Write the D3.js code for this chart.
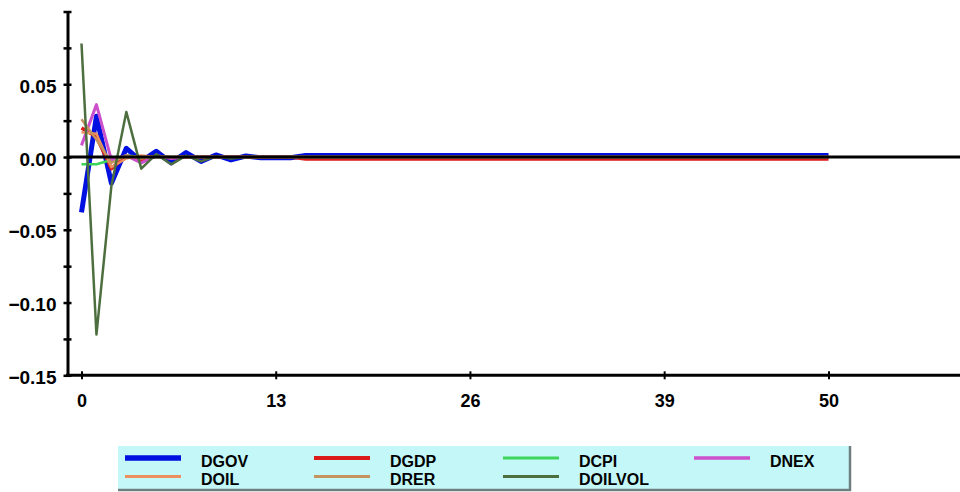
<!DOCTYPE html>
<html>
<head>
<meta charset="utf-8">
<script src="https://cdn.jsdelivr.net/npm/d3@7"></script>
<style>
  html, body { margin: 0; padding: 0; background: #ffffff; }
  svg { display: block; }
  text { font-family: "Liberation Sans", Arial, sans-serif; font-weight: bold; fill: #000; }
</style>
</head>
<body>
<svg id="chart" width="960" height="492"></svg>
<script>
// Impulse-response horizon (periods after the shock)
const periods = d3.range(0, 51);

// Axis ticks
const xTickValues = [0, 13, 26, 39, 50];
const yTickValues = [0.1, 0.075, 0.05, 0.025, 0, -0.025, -0.05, -0.075, -0.1, -0.125, -0.15];
const yLabelValues = [0.05, 0, -0.05, -0.1, -0.15];

// Responses, one array per variable (periods 0..50)
const dgov = [
  -0.038, 0.028, -0.018, 0.006, -0.003, 0.004, -0.004, 0.003, -0.003, 0.0014,
  -0.002, 0.0007, -0.0005, -0.0005, -0.0005, 0.0011, 0.0011, 0.0011, 0.0011, 0.0011,
  0.0011, 0.0011, 0.0011, 0.0011, 0.0011, 0.0011, 0.0011, 0.0011, 0.0011, 0.0011,
  0.0011, 0.0011, 0.0011, 0.0011, 0.0011, 0.0011, 0.0011, 0.0011, 0.0011, 0.0011,
  0.0011, 0.0011, 0.0011, 0.0011, 0.0011, 0.0011, 0.0011, 0.0011, 0.0011, 0.0011,
  0.0011
];
const dgdp = [
  0.020, 0.014, -0.008, 0.001, -0.002, 0.0005, -0.0005, 0, 0, 0,
  0, 0, 0, 0, 0, -0.0014, -0.0014, -0.0014, -0.0014, -0.0014,
  -0.0014, -0.0014, -0.0014, -0.0014, -0.0014, -0.0014, -0.0014, -0.0014, -0.0014, -0.0014,
  -0.0014, -0.0014, -0.0014, -0.0014, -0.0014, -0.0014, -0.0014, -0.0014, -0.0014, -0.0014,
  -0.0014, -0.0014, -0.0014, -0.0014, -0.0014, -0.0014, -0.0014, -0.0014, -0.0014, -0.0014,
  -0.0014
];
const dcpi = [
  -0.005, -0.005, -0.002, 0.001, 0, 0, 0, 0, 0, 0,
  0, 0, 0, 0, 0, 0, 0, 0, 0, 0,
  0, 0, 0, 0, 0, 0, 0, 0, 0, 0,
  0, 0, 0, 0, 0, 0, 0, 0, 0, 0,
  0, 0, 0, 0, 0, 0, 0, 0, 0, 0,
  0
];
const dnex = [
  0.008, 0.036, -0.002, 0.001, -0.004, 0.001, -0.001, 0, 0, 0,
  0, 0, 0, 0, 0, 0, 0, 0, 0, 0,
  0, 0, 0, 0, 0, 0, 0, 0, 0, 0,
  0, 0, 0, 0, 0, 0, 0, 0, 0, 0,
  0, 0, 0, 0, 0, 0, 0, 0, 0, 0,
  0
];
const doil = [
  0.017, 0.016, -0.007, -0.001, 0.001, 0, 0, 0, 0, 0,
  0, 0, 0, 0, 0, 0, 0, 0, 0, 0,
  0, 0, 0, 0, 0, 0, 0, 0, 0, 0,
  0, 0, 0, 0, 0, 0, 0, 0, 0, 0,
  0, 0, 0, 0, 0, 0, 0, 0, 0, 0,
  0
];
const drer = [
  0.026, 0.012, -0.004, 0.001, -0.001, 0.0005, 0, 0, 0, 0,
  0, 0, 0, 0, 0, 0, 0, 0, 0, 0,
  0, 0, 0, 0, 0, 0, 0, 0, 0, 0,
  0, 0, 0, 0, 0, 0, 0, 0, 0, 0,
  0, 0, 0, 0, 0, 0, 0, 0, 0, 0,
  0
];
const doilvol = [
  0.078, -0.122, -0.020, 0.031, -0.008, 0.002, -0.005, 0.001, -0.003, 0.0005,
  -0.001, 0, 0, 0, 0, 0, 0, 0, 0, 0,
  0, 0, 0, 0, 0, 0, 0, 0, 0, 0,
  0, 0, 0, 0, 0, 0, 0, 0, 0, 0,
  0, 0, 0, 0, 0, 0, 0, 0, 0, 0,
  0
];

const seriesNames = ["DGOV", "DGDP", "DCPI", "DNEX", "DOIL", "DRER", "DOILVOL"];
const seriesValues = [dgov, dgdp, dcpi, dnex, doil, drer, doilvol];
const seriesColors = ["#0010e0", "#dd1a1a", "#3cd45a", "#cc4fcc", "#ec9060", "#c4935e", "#4d6f3f"];
const seriesWidths = [5, 3.5, 2.5, 3, 2.5, 2.5, 2.5];

const svg = d3.select("#chart");

const x = d3.scaleLinear().domain([0, 50]).range([81.5, 828.5]);
const y = d3.scaleLinear().domain([-0.15, 0.1]).range([375.3, 11.5]);

const axisLeftX = 67.5;
const plotRight = 960;

// Series lines
const line = d3.line().x((d, i) => x(periods[i])).y(d => y(d));
const series = seriesNames.map((name, k) => ({
  name, values: seriesValues[k], color: seriesColors[k], width: seriesWidths[k]
}));

svg.append("g").selectAll("path")
  .data(series)
  .join("path")
  .attr("fill", "none")
  .attr("stroke", d => d.color)
  .attr("stroke-width", d => d.width)
  .attr("stroke-linejoin", "round")
  .attr("d", d => line(d.values));

// Zero reference line
svg.append("line")
  .attr("x1", axisLeftX).attr("x2", plotRight)
  .attr("y1", y(0)).attr("y2", y(0))
  .attr("stroke", "#000").attr("stroke-width", 3);

// Y axis
const yAxis = d3.axisLeft(y)
  .tickValues(yTickValues)
  .tickSizeInner(4).tickSizeOuter(0).tickPadding(7)
  .tickFormat(d => yLabelValues.some(v => Math.abs(v - d) < 1e-9) ? d3.format(".2f")(d) : "");
const gy = svg.append("g").attr("transform", `translate(${axisLeftX},0)`).call(yAxis);
gy.select(".domain").attr("stroke", "#000").attr("stroke-width", 3);
gy.selectAll(".tick line").attr("x1", 4).attr("stroke", "#000").attr("stroke-width", 2.5);
gy.selectAll(".tick text")
  .attr("dy", "0.42em")
  .style("font-size", "19px");

// X axis
const xAxis = d3.axisBottom(x)
  .tickValues(xTickValues)
  .tickSizeInner(4).tickSizeOuter(0).tickPadding(15)
  .tickFormat(d3.format("d"));
const gx = svg.append("g").attr("transform", `translate(0,${y(-0.15)})`).call(xAxis);
gx.select(".domain").remove();
gx.append("line")
  .attr("x1", axisLeftX - 1.5).attr("x2", plotRight)
  .attr("y1", 0).attr("y2", 0)
  .attr("stroke", "#000").attr("stroke-width", 3);
gx.selectAll(".tick line").attr("y1", -4).attr("stroke", "#000").attr("stroke-width", 2);
gx.selectAll(".tick text").style("font-size", "18px");

// Legend
const legend = svg.append("g");
legend.append("rect")
  .attr("x", 118).attr("y", 446).attr("width", 732).attr("height", 44)
  .attr("fill", "#c4f8f8");
legend.append("path")
  .attr("d", "M850,446 V490 H118")
  .attr("fill", "none").attr("stroke", "#6f7f80").attr("stroke-width", 2.5);

const colX = [125, 314, 503, 694];
const rowY = [458, 476.5];
series.forEach((s, k) => {
  const col = k < 4 ? k : k - 4;
  const row = k < 4 ? 0 : 1;
  const lx = colX[col];
  const ly = rowY[row];
  legend.append("line")
    .attr("x1", lx).attr("x2", lx + 56)
    .attr("y1", ly).attr("y2", ly)
    .attr("stroke", s.color)
    .attr("stroke-width", Math.min(s.width + 0.5, 5.5));
  legend.append("text")
    .attr("x", lx + 76).attr("y", ly + 8.5)
    .style("font-size", "16px")
    .text(s.name);
});
</script>
</body>
</html>
